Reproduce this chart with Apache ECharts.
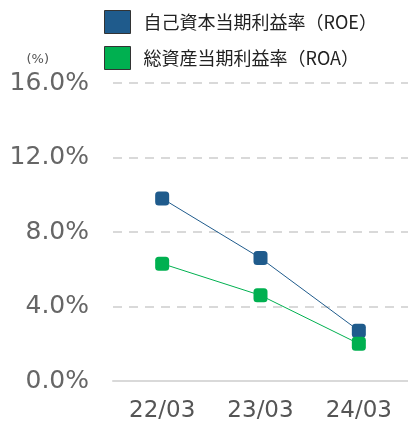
<!DOCTYPE html>
<html>
<head>
<meta charset="utf-8">
<script src="https://cdn.jsdelivr.net/npm/echarts@6/dist/echarts.min.js"></script>
<style>
  html, body { margin: 0; padding: 0; background: #fff; }
  #chart { width: 408px; height: 425px; }
</style>
</head>
<body>
<div id="chart"></div>
<script>
var years = ['22/03', '23/03', '24/03'];
var roe = [9.8, 6.6, 2.7];
var roa = [6.3, 4.6, 2.0];
var yTicks = [0, 4, 8, 12, 16];

var roeName = '自己資本当期利益率（ROE）';
var roaName = '総資産当期利益率（ROA）';
var roeColor = '#1f5b8c';
var roaColor = '#00b050';

var chart = echarts.init(document.getElementById('chart'));

var option = {
  animation: false,
  legend: {
    orient: 'vertical',
    left: 99,
    top: 5,
    itemWidth: 26,
    itemHeight: 23,
    itemGap: 12,
    data: [
      { name: roeName, icon: 'rect', itemStyle: { borderColor: '#333', borderWidth: 1 } },
      { name: roaName, icon: 'rect', itemStyle: { borderColor: '#333', borderWidth: 1 } }
    ],
    textStyle: {
      fontFamily: 'Noto Sans CJK JP',
      fontSize: 18,
      color: '#222',
      padding: [0, 0, 0, 8]
    }
  },
  grid: { left: 113, right: -4, top: 83, bottom: 44 },
  xAxis: {
    type: 'category',
    data: years,
    axisTick: { show: false },
    axisLine: { lineStyle: { color: '#d9d9d9', width: 2 } },
    axisLabel: {
      margin: 19,
      fontFamily: 'DejaVu Sans',
      fontSize: 23,
      color: '#555'
    }
  },
  yAxis: {
    type: 'value',
    min: yTicks[0],
    max: yTicks[yTicks.length - 1],
    interval: 4,
    name: '(%)',
    nameGap: 17,
    nameTextStyle: {
      fontFamily: 'DejaVu Sans',
      fontSize: 13,
      color: '#555',
      align: 'right',
      padding: [0, 64, 0, 0]
    },
    axisLine: { show: false },
    axisTick: { show: false },
    axisLabel: {
      margin: 24,
      fontFamily: 'DejaVu Sans',
      fontSize: 25,
      color: '#666',
      formatter: function (v) { return v.toFixed(1) + '%'; }
    },
    splitLine: {
      lineStyle: { color: '#d9d9d9', width: 2, type: [9, 7] }
    }
  },
  series: [
    {
      name: roeName,
      type: 'line',
      data: roe,
      symbol: 'roundRect',
      symbolSize: 14,
      color: roeColor,
      lineStyle: { width: 1, color: roeColor },
      itemStyle: { color: roeColor }
    },
    {
      name: roaName,
      type: 'line',
      data: roa,
      symbol: 'roundRect',
      symbolSize: 14,
      color: roaColor,
      lineStyle: { width: 1, color: roaColor },
      itemStyle: { color: roaColor }
    }
  ]
};

chart.setOption(option);
</script>
</body>
</html>
